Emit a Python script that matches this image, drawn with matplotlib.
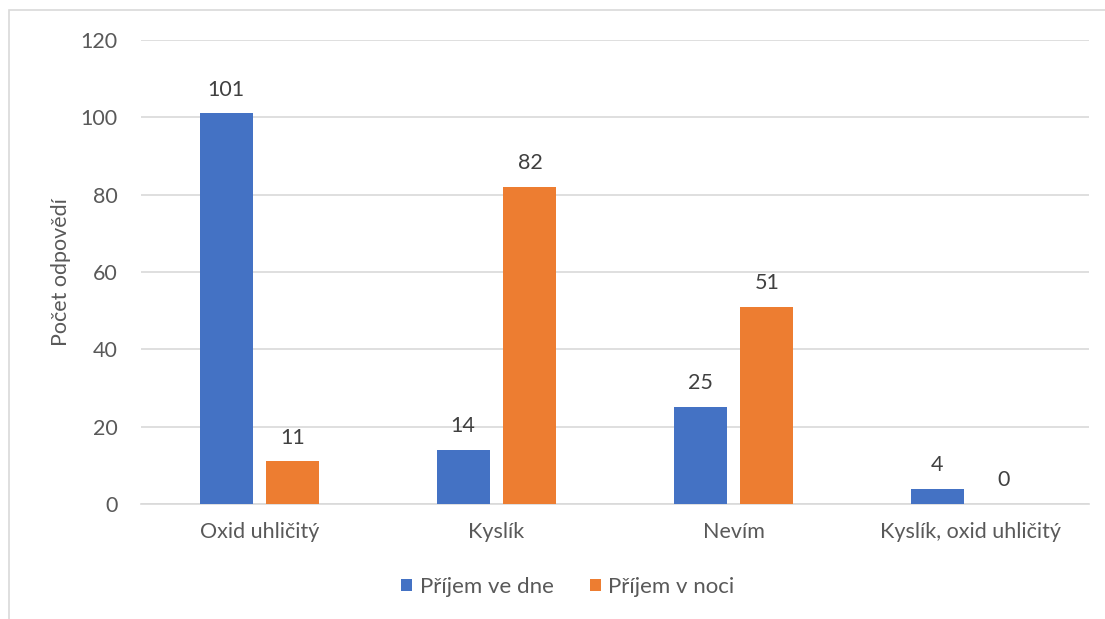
import matplotlib
matplotlib.use("Agg")
from matplotlib import pyplot as plt
from matplotlib.patches import Rectangle
import numpy as np

kategorie = ["Oxid uhličitý", "Kyslík", "Nevím", "Kyslík, oxid uhličitý"]
prijem_den = [101, 14, 25, 4]
prijem_noc = [11, 82, 51, 0]

modra = "#4472C4"
oranzova = "#ED7D31"
sedy_text = "#595959"

plt.rcParams["font.family"] = ["Lato", "DejaVu Sans"]

fig = plt.figure(figsize=(11.05, 6.19), dpi=100)
ax = fig.add_axes([0.1276, 0.1858, 0.8579, 0.7496])

# ramecek grafu (jen levy a horni okraj je videt)
fig.patches.append(Rectangle((9 / 1105, -0.1), 1.2, 1 - 10 / 619 + 0.1, transform=fig.transFigure,
                             fill=False, edgecolor="#D9D9D9", linewidth=1.2))

x = np.arange(len(kategorie))
sirka = 0.224
posun = 0.141
b1 = ax.bar(x - posun, prijem_den, sirka, color=modra, label="Příjem ve dne", zorder=3)
b2 = ax.bar(x + posun, prijem_noc, sirka, color=oranzova, label="Příjem v noci", zorder=3)

for bars in (b1, b2):
    for b in bars:
        ax.annotate(f"{int(b.get_height())}", (b.get_x() + b.get_width() / 2, b.get_height()),
                    xytext=(0, 10), textcoords="offset points", ha="center", va="bottom",
                    fontsize=15.5, color="#404040")

ax.set_xlim(-0.5, len(kategorie) - 0.5)
ax.set_ylim(0, 120)
ax.set_yticks(range(0, 121, 20))
ax.set_xticks(x)
ax.set_xticklabels(kategorie)
ax.tick_params(axis="both", length=0, labelsize=15.5, labelcolor=sedy_text)
ax.tick_params(axis="x", pad=13)
ax.tick_params(axis="y", pad=17)

ax.grid(axis="y", color="#D9D9D9", linewidth=1.2, zorder=0)
for s in ["top", "right", "left"]:
    ax.spines[s].set_visible(False)
ax.spines["bottom"].set_color("#D9D9D9")
ax.spines["bottom"].set_linewidth(1.2)

ax.set_ylabel("Počet odpovědí", fontsize=15.5, color=sedy_text)
ax.yaxis.set_label_coords(-0.074, 0.5)

fig.legend(loc="center", bbox_to_anchor=(568 / 1105, 1 - 587 / 619), ncol=2, frameon=False,
           fontsize=16, labelcolor=sedy_text, handlelength=0.5, handleheight=0.5,
           handletextpad=0.35, columnspacing=1.6)

fig.savefig("out.png", dpi=100)
